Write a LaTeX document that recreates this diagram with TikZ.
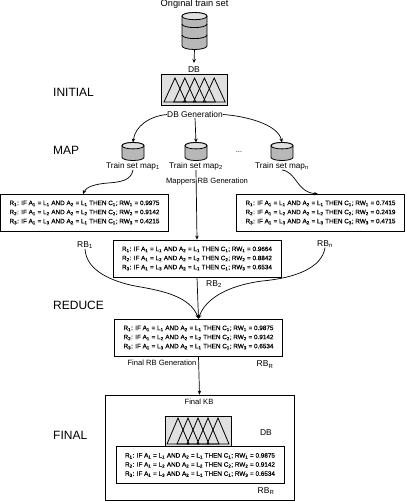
\documentclass[tikz,border=0pt]{standalone}
\usepackage{fontspec}
\setmainfont{Liberation Sans}
\newfontfamily\rulefont[FakeBold=0.35]{Liberation Sans}
\usetikzlibrary{arrows.meta}
\newcommand{\rulerow}[9]{R\textsubscript{#1}: IF A\textsubscript{1} = L\textsubscript{#2} AND A\textsubscript{2} = L\textsubscript{#3} THEN C\textsubscript{#4}; RW\textsubscript{#5} = #6}
\newcommand{\rulebox}[3]{\rulerow#1{}{}{}\\[0.6pt]\rulerow#2{}{}{}\\[0.6pt]\rulerow#3{}{}{}}
\tikzset{
 x=1pt,y=-1pt,
 rulesbox/.style={draw=black,line width=0.8pt,fill=white,minimum width=168pt,minimum height=37pt,inner sep=0pt,align=center,font=\rulefont\fontsize{6.35}{8.5}\selectfont},
 dbbox/.style={draw=black,line width=0.6pt,fill=black!12,minimum width=66pt,minimum height=31pt,inner sep=0pt},
 tri/.style={draw=black,line width=0.8pt},
 smalltxt/.style={font=\fontsize{7.6}{9}\selectfont,inner sep=0pt},
 maptxt/.style={font=\fontsize{8.2}{9}\selectfont,inner sep=0pt},
 phase/.style={font=\fontsize{12}{13}\selectfont,anchor=west,inner sep=0pt},
 rbl/.style={font=\fontsize{8.5}{10}\selectfont,inner sep=0pt},
 canbox/.style={inner sep=0pt,outer sep=0pt},
 canline/.style={draw=black,line width=0.8pt},
 link/.style={draw=black,line width=0.7pt,-{Stealth[length=4pt,width=3.5pt]}},
}
\newcommand{\triangles}[4]{%
 \foreach \i in {0,...,4}{\draw[tri] ({#1+\i*#4-11},#3) -- ({#1+\i*#4},#2) -- ({#1+\i*#4+11},#3) -- cycle;}}
% name, centre x, centre y, width, height, ellipse half height
\newcommand{\canshape}[6]{%
 \node[canbox,minimum width=#4pt,minimum height=#5pt] (#1) at (#2,#3) {};
 \path[canline,fill=black!28] (#1.north west) ++(0,#6) -- ++(0,#5-2*#6)
   arc[start angle=180,end angle=0,x radius=#4/2,y radius=#6] -- ++(0,-#5+2*#6)
   arc[start angle=0,end angle=-180,x radius=#4/2,y radius=#6] -- cycle;
 \path[canline,fill=black!12] (#1.north west) ++(#4/2,#6) ellipse[x radius=#4/2,y radius=#6];
}
\begin{document}
\begin{tikzpicture}
\useasboundingbox (0,0) rectangle (405,501);
\fill[white] (0,0) rectangle (405,501);
% phases
\node[phase] (pi) at (53,92) {INITIAL};
\node[phase] (pm) at (53,150) {MAP};
\node[phase] (pr) at (53,305) {REDUCE};
\node[phase] (pf) at (53,435) {FINAL};
% top
\node[smalltxt] (orig) at (194.5,4) {\fontsize{9.3}{10}\selectfont Original train set};
\canshape{big}{194.5}{31}{25}{37}{3.6}
\draw[canline] (182,24) arc[start angle=180,end angle=0,x radius=12.5,y radius=3.6];
\draw[canline] (182,35) arc[start angle=180,end angle=0,x radius=12.5,y radius=3.6];
\node[rbl] (dbt) at (194,70) {DB};
\node[dbbox] (db) at (194,90) {};
\triangles{175}{78}{102}{9.8}
\node[maptxt,font=\fontsize{8.4}{9}\selectfont] (dbg) at (195,114.5) {DB Generation};
\draw[link] (big.south) -- (194,63);
% cans
\canshape{c1}{133}{151.5}{22}{18}{3.2}
\canshape{c2}{196}{151.5}{22}{18}{3.2}
\canshape{c3}{282}{151.5}{22}{18}{3.2}
\node[maptxt] (t1) at (133,166) {Train set map\textsubscript{1}};
\node[maptxt] (t2) at (196,166) {Train set map\textsubscript{2}};
\node[maptxt] (t3) at (282,166) {Train set map\textsubscript{n}};
\node[smalltxt] (dots) at (239,152) {...};
\draw[link] (dbg.west) .. controls (150,116) and (135,126) .. (c1.north);
\draw[link] (dbg.south) -- (c2.north);
\draw[link] (dbg.east) .. controls (245,116) and (278,124) .. (c3.north);
% rule boxes
\node[rulesbox] (bl) at (84.5,212.5) {\rulebox{{1}{1}{1}{1}{1}{0.9975}}{{2}{2}{2}{2}{2}{0.9142}}{{3}{3}{1}{1}{3}{0.4215}}};
\node[rulesbox] (br) at (320.5,212.5) {\rulebox{{1}{1}{1}{1}{1}{0.7415}}{{2}{2}{2}{2}{2}{0.2419}}{{3}{3}{3}{3}{3}{0.4715}}};
\node[rulesbox] (bm) at (197,258.5) {\rulebox{{1}{1}{1}{1}{1}{0.9664}}{{2}{2}{2}{2}{2}{0.8842}}{{3}{3}{1}{1}{3}{0.6534}}};
\draw[link] (t1.south) .. controls (131,180) and (122,182) .. (108,183) .. controls (95,184) and (86,187) .. (83,194);
\draw[link] (t3.south) .. controls (297,172) and (296,192) .. (318,194);
\draw[link] (t2.south) -- (bm.north);
\node[smalltxt] (mrb) at (207,182) {Mappers RB Generation};
% RB labels
\node[rbl] (rb1) at (85,245) {RB\textsubscript{1}};
\node[rbl] (rbn) at (325,244) {RB\textsubscript{n}};
\node[rbl] (rb2) at (214,284) {RB\textsubscript{2}};
% final RB
\node[rulesbox] (bf) at (198.5,337.5) {\rulebox{{1}{1}{1}{1}{1}{0.9875}}{{2}{2}{2}{2}{2}{0.9142}}{{3}{3}{1}{1}{3}{0.6534}}};
\draw[link] (rb1.south) .. controls (86,272) and (115,282) .. (135,286) .. controls (165,291) and (190,297) .. (bf.north);
\draw[link] (rbn.south) .. controls (322,268) and (295,278) .. (262,281) .. controls (225,286) and (205,300) .. (bf.north);
\draw[link] (bm.south) -- (bf.north);
\node[smalltxt] (frb) at (162,363) {Final RB Generation};
\node[rbl] (rbr) at (265,364.5) {RB\textsubscript{R}};
% final KB
\node[draw=black,line width=0.8pt,minimum width=189pt,minimum height=105pt,inner sep=0pt] (kb) at (199.5,447.5) {};
\draw[link] (bf.south) -- (kb.north);
\node[smalltxt] (fkb) at (199,402) {Final KB};
\node[dbbox,minimum height=30pt] (db2) at (198,431) {};
\triangles{178}{418}{444}{10}
\node[rbl] (db2l) at (266,433) {DB};
\node[rulesbox] (bk) at (200,465) {\rulebox{{1}{1}{1}{1}{1}{0.9875}}{{2}{2}{2}{2}{2}{0.9142}}{{3}{3}{1}{1}{3}{0.6534}}};
\node[rbl] (rbr2) at (266,491) {RB\textsubscript{R}};
\end{tikzpicture}
\end{document}
